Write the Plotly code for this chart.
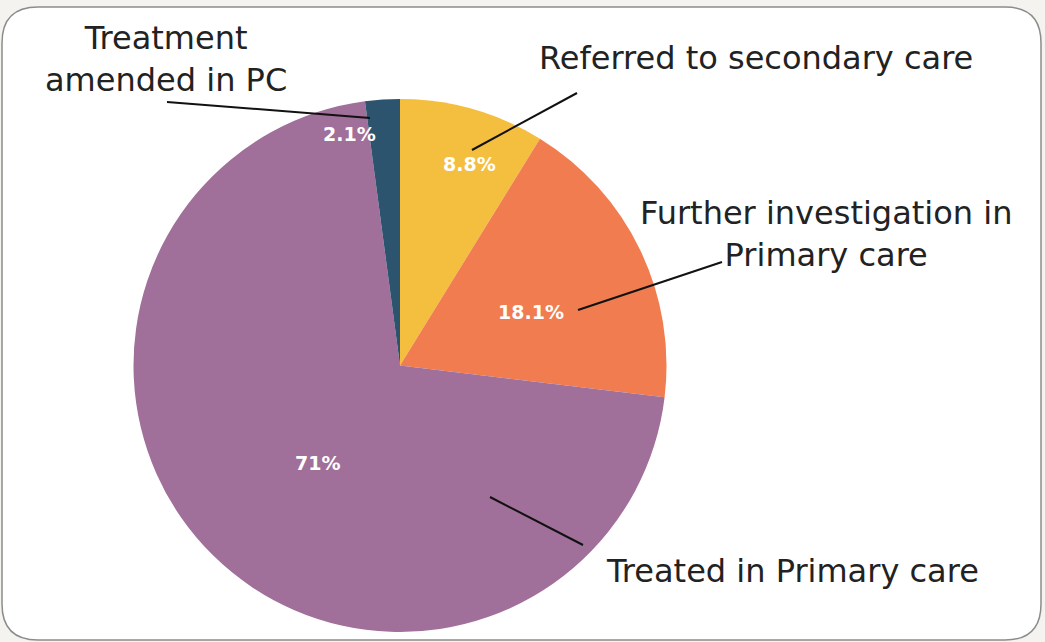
import math
import plotly.graph_objects as go

# ---- data ----
categories = ["Referred to secondary care",
              "Further investigation in<br>Primary care",
              "Treated in Primary care",
              "Treatment<br>amended in PC"]
values = [8.8, 18.1, 71.0, 2.1]
pct_labels = [f"{v:g}%" for v in values]
colors = ["#F4BE3F", "#F07C4F", "#A06F9A", "#2D546E"]

# ---- layout constants (pixels) ----
W, H = 1045, 642
cx, cy, R = 400, 365.5, 266.5
FONT = "DejaVu Sans"

def P(x, y):
    return x / W, 1 - y / H

fig = go.Figure(go.Pie(
    labels=categories, values=values, sort=False, direction="clockwise",
    rotation=0, marker=dict(colors=colors, line=dict(width=0)),
    textinfo="none", hoverinfo="label+percent", showlegend=False,
    domain=dict(x=[(cx - R) / W, (cx + R) / W],
                y=[(H - cy - R) / H, (H - cy + R) / H]),
))

# percent labels placed along each slice's bisector
label_dtheta = [3.2, 3.7, -4.6, -8.6]
label_frac = [0.80, 0.53, 0.48, 0.89]
total = sum(values)
cum = 0
annotations = []
for i, v in enumerate(values):
    mid = (cum + v / 2) / total * 360 + label_dtheta[i]
    cum += v
    r = label_frac[i] * R
    x = cx + r * math.sin(math.radians(mid))
    y = cy - r * math.cos(math.radians(mid))
    px, py = P(x, y)
    annotations.append(dict(x=px, y=py, xref="paper", yref="paper",
                            text=pct_labels[i], showarrow=False,
                            xanchor="center", yanchor="middle",
                            font=dict(family=FONT, size=19, color="white", weight="bold")))

# outer category labels
outer_pos = [(756, 58), (826, 234), (792, 571), (166, 59)]
for i, (x, y) in enumerate(outer_pos):
    px, py = P(x, y)
    annotations.append(dict(x=px, y=py, xref="paper", yref="paper",
                            text=categories[i], showarrow=False,
                            xanchor="center", yanchor="middle",
                            font=dict(family=FONT, size=32, color="#222222")))

# leader lines
leaders = [((577, 93), (472, 150)),
           ((722, 262), (578, 310)),
           ((583, 545), (490, 497)),
           ((167, 102), (370, 118))]
shapes = []
# rounded frame
x0, y0, x1, y1 = 2, 7, 1041, 640
rc = 36
path = (f"M {(x0+rc)/W},{1-y0/H} L {(x1-rc)/W},{1-y0/H} "
        f"Q {x1/W},{1-y0/H} {x1/W},{1-(y0+rc)/H} "
        f"L {x1/W},{1-(y1-rc)/H} "
        f"Q {x1/W},{1-y1/H} {(x1-rc)/W},{1-y1/H} "
        f"L {(x0+rc)/W},{1-y1/H} "
        f"Q {x0/W},{1-y1/H} {x0/W},{1-(y1-rc)/H} "
        f"L {x0/W},{1-(y0+rc)/H} "
        f"Q {x0/W},{1-y0/H} {(x0+rc)/W},{1-y0/H} Z")
shapes.append(dict(type="path", path=path, xref="paper", yref="paper",
                   fillcolor="white", line=dict(color="#8c8c8c", width=1.5),
                   layer="below"))
for (a, b) in leaders:
    ax, ay = P(*a)
    bx, by = P(*b)
    shapes.append(dict(type="line", xref="paper", yref="paper",
                       x0=ax, y0=ay, x1=bx, y1=by,
                       line=dict(color="#111111", width=2), layer="above"))

fig.update_layout(width=W, height=H, margin=dict(l=0, r=0, t=0, b=0),
                  paper_bgcolor="#f5f3ef", plot_bgcolor="#f5f3ef",
                  annotations=annotations, shapes=shapes)
fig.write_html("out.html", config={"displayModeBar": False},
               post_script="document.body.style.margin='0';document.body.style.padding='0';")
